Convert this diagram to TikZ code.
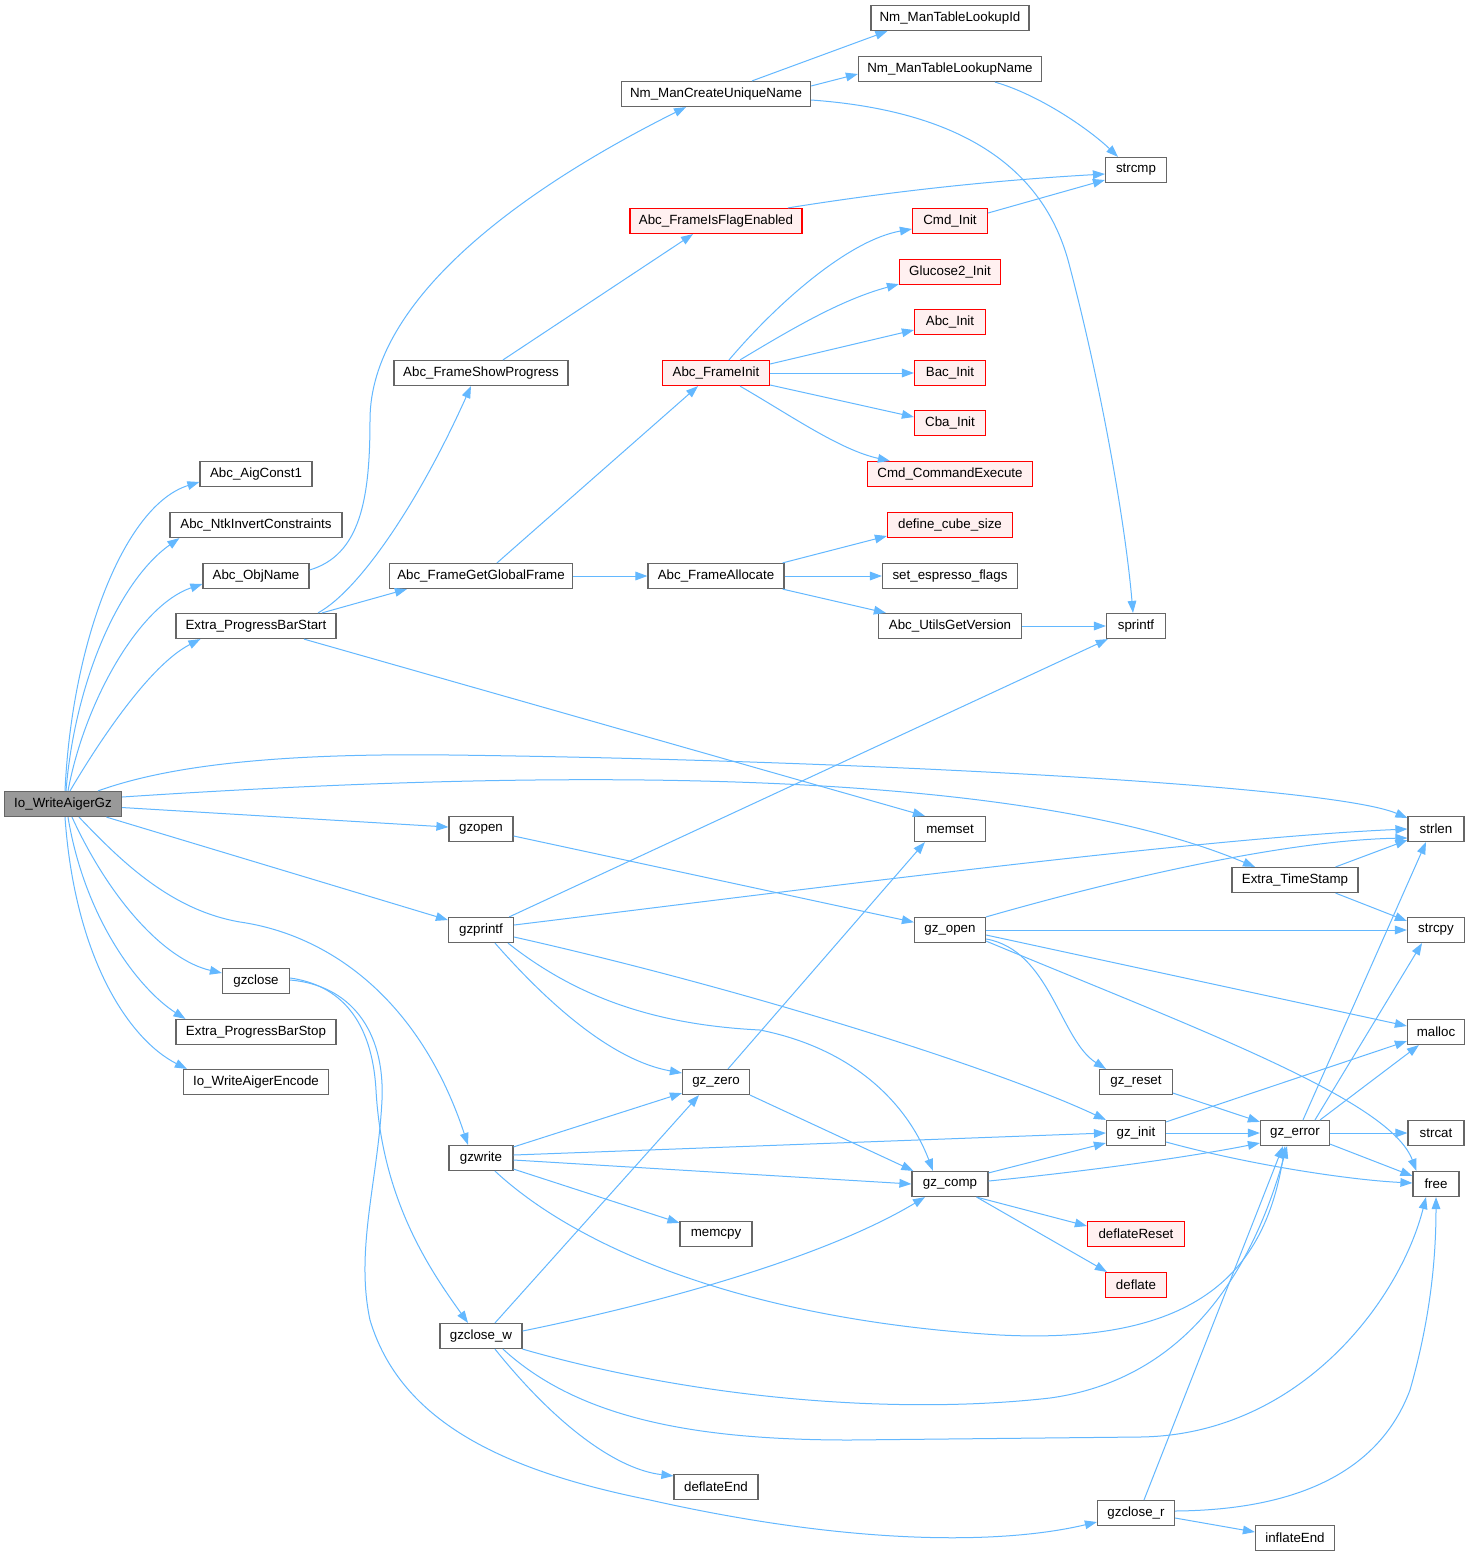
\documentclass[tikz,border=0pt]{standalone}
\usepackage{fontspec}
\setmainfont{Liberation Sans}
\usetikzlibrary{arrows.meta,calc}
\definecolor{edgec}{HTML}{63B8FF}
\definecolor{nodeb}{HTML}{666666}
\definecolor{rootf}{HTML}{999999}
\definecolor{redb}{HTML}{FF0000}
\definecolor{redf}{HTML}{FFF0F0}
\begin{document}
\begin{tikzpicture}[x=0.75pt,y=-0.75pt,
 fn/.style={draw=nodeb,fill=white,line width=0.9pt,minimum height=18.75pt,inner sep=0pt,font=\fontsize{10}{12}\selectfont},
 rootn/.style={fn,fill=rootf},
 redn/.style={fn,draw=redb,fill=redf},
 w/.style={minimum width=#1*0.75pt},
 e/.style={draw=edgec,line width=0.75pt,-{Triangle[length=9pt,width=6.5pt]}}]
\useasboundingbox (0,0) rectangle (1471,1557);
\fill[white] (0,0) rectangle (1471,1557);
% nodes
\node[rootn,w=117] (root) at (63,804) {Io\_WriteAigerGz};
\node[fn,w=112] (aig) at (256,474) {Abc\_AigConst1};
\node[fn,w=172] (ntk) at (256,525) {Abc\_NtkInvertConstraints};
\node[fn,w=106] (obj) at (256,576) {Abc\_ObjName};
\node[fn,w=160] (pbs) at (256,626) {Extra\_ProgressBarStart};
\node[fn,w=67] (gzc) at (256,981) {gzclose};
\node[fn,w=160] (pbe) at (256,1032) {Extra\_ProgressBarStop};
\node[fn,w=145] (enc) at (256,1082) {Io\_WriteAigerEncode};
\node[fn,w=189] (nmc) at (716,94) {Nm\_ManCreateUniqueName};
\node[fn,w=174] (fsp) at (481,373) {Abc\_FrameShowProgress};
\node[fn,w=183] (ggf) at (481,576) {Abc\_FrameGetGlobalFrame};
\node[fn,w=64] (gzo) at (481,829) {gzopen};
\node[fn,w=65] (gzp) at (481,930) {gzprintf};
\node[fn,w=64] (gzw) at (481,1158) {gzwrite};
\node[fn,w=82] (gzcw) at (481,1336) {gzclose\_w};
\node[redn,w=172] (ffe) at (716,221) {Abc\_FrameIsFlagEnabled};
\node[redn,w=107] (fin) at (716,373) {Abc\_FrameInit};
\node[fn,w=136] (fal) at (716,576) {Abc\_FrameAllocate};
\node[fn,w=67] (gzz) at (716,1082) {gz\_zero};
\node[fn,w=72] (mcp) at (716,1234) {memcpy};
\node[fn,w=84] (dfe) at (716,1487) {deflateEnd};
\node[fn,w=158] (tid) at (950,18) {Nm\_ManTableLookupId};
\node[fn,w=183] (tnm) at (950,69) {Nm\_ManTableLookupName};
\node[redn,w=75] (cmi) at (950,221) {Cmd\_Init};
\node[redn,w=101] (glu) at (950,272) {Glucose2\_Init};
\node[redn,w=71] (abi) at (950,322) {Abc\_Init};
\node[redn,w=71] (bai) at (950,373) {Bac\_Init};
\node[redn,w=71] (cbi) at (950,423) {Cba\_Init};
\node[redn,w=165] (cce) at (950,474) {Cmd\_CommandExecute};
\node[redn,w=125] (dcs) at (950,525) {define\_cube\_size};
\node[fn,w=135] (sef) at (950,576) {set\_espresso\_flags};
\node[fn,w=143] (ugv) at (950,626) {Abc\_UtilsGetVersion};
\node[fn,w=71] (mst) at (950,829) {memset};
\node[fn,w=71] (gzop) at (950,930) {gz\_open};
\node[fn,w=76] (gzcm) at (950,1184) {gz\_comp};
\node[fn,w=61] (scm) at (1136,170) {strcmp};
\node[fn,w=59] (spf) at (1136,626) {sprintf};
\node[fn,w=73] (gzr) at (1136,1082) {gz\_reset};
\node[fn,w=59] (gzi) at (1136,1133) {gz\_init};
\node[redn,w=97] (dfr) at (1136,1234) {deflateReset};
\node[redn,w=61] (dfl) at (1136,1285) {deflate};
\node[fn,w=77] (gzcr) at (1136,1513) {gzclose\_r};
\node[fn,w=126] (ets) at (1295,880) {Extra\_TimeStamp};
\node[fn,w=69] (gze) at (1295,1133) {gz\_error};
\node[fn,w=79] (ife) at (1295,1538) {inflateEnd};
\node[fn,w=56] (sln) at (1436,829) {strlen};
\node[fn,w=57] (scp) at (1436,930) {strcpy};
\node[fn,w=57] (mal) at (1436,1032) {malloc};
\node[fn,w=56] (sct) at (1436,1133) {strcat};
\node[fn,w=46] (fre) at (1436,1184) {free};
% edges from root
\draw[e] ($(root.north)+(2,0)$) .. controls (72,640) and (125,505) .. ($(aig.west)+(0,8)$);
\draw[e] ($(root.north)+(3,0)$) .. controls (75,680) and (120,580) .. ($(ntk.south west)+(10,0)$);
\draw[e] ($(root.north)+(5,0)$) .. controls (85,700) and (140,605) .. ($(obj.west)+(0,8)$);
\draw[e] ($(root.north)+(7,0)$) .. controls (100,740) and (150,665) .. ($(pbs.south west)+(25,0)$);
\draw[e] ($(root.north)+(35,0)$) .. controls (170,765) and (280,753) .. (450,755) .. controls (850,760) and (1330,785) .. ($(sln.west)+(0,-11)$);
\draw[e] ($(root.east)+(0,-7)$) .. controls (500,772) and (1000,760) .. ($(ets.north)+(-40,0)$);
\draw[e] (root) -- (gzo);
\draw[e] (root) -- (gzp);
\draw[e] ($(root.south)+(16,0)$) .. controls (120,860) and (170,910) .. (240,922) .. controls (330,935) and (420,1000) .. ($(gzw.north)+(-13,0)$);
\draw[e] ($(root.south)+(9,0)$) .. controls (110,900) and (165,960) .. ($(gzc.west)+(0,-8)$);
\draw[e] ($(root.south)+(5,0)$) .. controls (85,920) and (140,990) .. ($(pbe.north west)+(10,0)$);
\draw[e] ($(root.south)+(2,0)$) .. controls (75,960) and (130,1040) .. ($(enc.north west)+(4,0)$);
% upper part
\draw[e] ($(obj.east)+(0,-6)$) .. controls (360,555) and (370,500) .. (370,420) .. controls (370,300) and (520,190) .. ($(nmc.south)+(-30,0)$);
\draw[e] ($(pbs.north)+(62,0)$) .. controls (360,590) and (420,500) .. ($(fsp.south)+(-10,0)$);
\draw[e] ($(pbs.north)+(66,0)$) -- ($(ggf.south west)+(18,0)$);
\draw[e] ($(pbs.south)+(48,0)$) -- ($(mst.north west)+(11,0)$);
\draw[e] ($(nmc.north)+(36,0)$) -- ($(tid.south west)+(17,0)$);
\draw[e] ($(nmc.east)+(0,-8)$) -- ($(tnm.west)+(0,5)$);
\draw[e] ($(nmc.east)+(0,6)$) .. controls (950,110) and (1040,160) .. (1068,260) .. controls (1100,380) and (1125,520) .. ($(spf.north)+(-3,0)$);
\draw[e] ($(tnm.south)+(45,0)$) .. controls (1040,95) and (1090,130) .. ($(scm.north)+(-18,0)$);
\draw[e] ($(ffe.north)+(72,0)$) .. controls (900,190) and (1000,180) .. ($(scm.west)+(0,4)$);
\draw[e] ($(cmi.east)+(0,-8)$) -- ($(scm.west)+(0,10)$);
\draw[e] ($(fsp.north)+(22,0)$) -- ($(ffe.south)+(-23,0)$);
\draw[e] ($(ggf.north)+(16,0)$) -- ($(fin.south)+(-18,0)$);
\draw[e] (ggf) -- (fal);
\draw[e] ($(fin.north)+(13,0)$) .. controls (780,300) and (850,240) .. ($(cmi.west)+(0,8)$);
\draw[e] ($(fin.north)+(24,0)$) .. controls (790,330) and (840,300) .. ($(glu.south west)+(0,-1)$);
\draw[e] ($(fin.east)+(0,-9)$) -- ($(abi.west)+(0,8)$);
\draw[e] (fin) -- (bai);
\draw[e] ($(fin.east)+(0,12)$) -- ($(cbi.west)+(0,-6)$);
\draw[e] ($(fin.south)+(24,0)$) .. controls (790,415) and (840,450) .. ($(cce.north west)+(23,0)$);
\draw[e] ($(fal.north east)+(-2,0)$) -- ($(dcs.west)+(0,11)$);
\draw[e] (fal) -- (sef);
\draw[e] ($(fal.south east)+(-2,0)$) -- ($(ugv.north west)+(8,0)$);
\draw[e] (ugv) -- (spf);
% middle part
\draw[e] (gzp) -- (spf);
\draw[e] ($(gzp.east)+(0,-5)$) .. controls (800,890) and (1200,838) .. (sln.west);
\draw[e] ($(gzp.south)+(14,0)$) .. controls (545,1000) and (610,1060) .. ($(gzz.west)+(0,-9)$);
\draw[e] ($(gzp.south)+(27,0)$) .. controls (580,1000) and (660,1025) .. (760,1030) .. controls (860,1050) and (910,1110) .. ($(gzcm.north)+(-17,0)$);
\draw[e] ($(gzp.east)+(0,7)$) .. controls (750,990) and (1000,1070) .. (gzi.north west);
\draw[e] (gzo) -- (gzop);
\draw[e] (gzop.north east) .. controls (1150,870) and (1300,840) .. ($(sln.west)+(0,9)$);
\draw[e] (gzop) -- (scp);
\draw[e] ($(gzop.east)+(0,5)$) -- ($(mal.west)+(0,-6)$);
\draw[e] ($(gzop.south east)+(0,-2)$) .. controls (1200,1030) and (1390,1100) .. ($(fre.north west)+(4,0)$);
\draw[e] ($(gzop.east)+(0,9)$) .. controls (1050,950) and (1060,1040) .. ($(gzr.north west)+(7,0)$);
\draw[e] ($(ets.north east)+(-23,0)$) -- ($(sln.west)+(0,11)$);
\draw[e] ($(ets.south east)+(-23,0)$) -- ($(scp.west)+(0,-9)$);
% gzclose
\draw[e] ($(gzc.east)+(0,-3)$) .. controls (340,985) and (372,1020) .. (376,1090) .. controls (382,1200) and (430,1270) .. ($(gzcw.north)+(-13,0)$);
\draw[e] ($(gzc.east)+(0,-1)$) .. controls (350,985) and (385,1030) .. (382,1100) .. controls (378,1180) and (355,1250) .. (370,1320) .. controls (400,1420) and (500,1470) .. (650,1500) .. controls (850,1545) and (1000,1545) .. ($(gzcr.west)+(0,9)$);
% gzwrite
\draw[e] ($(gzw.north east)+(0,2)$) -- ($(gzz.south west)+(0,-2)$);
\draw[e] ($(gzw.east)+(0,-3)$) -- (gzi.west);
\draw[e] ($(gzw.east)+(0,2)$) -- (gzcm.west);
\draw[e] ($(gzw.south east)+(0,-2)$) -- ($(mcp.north west)+(0,2)$);
\draw[e] ($(gzw.south)+(14,0)$) .. controls (580,1250) and (750,1320) .. (1000,1335) .. controls (1200,1345) and (1265,1270) .. ($(gze.south)+(-10,0)$);
% gz_zero, gz_comp
\draw[e] ($(gzz.north)+(12,0)$) -- ($(mst.south west)+(11,0)$);
\draw[e] (gzz.south east) -- ($(gzcm.north west)+(2,0)$);
\draw[e] ($(gzcm.north east)+(0,2)$) -- ($(gzi.west)+(0,10)$);
\draw[e] ($(gzcm.east)+(0,-3)$) .. controls (1100,1170) and (1200,1155) .. ($(gze.west)+(0,10)$);
\draw[e] ($(gzcm.south east)+(-12,0)$) -- ($(dfr.west)+(0,-8)$);
\draw[e] ($(gzcm.south east)+(-12,0)$) -- ($(dfl.north west)+(2,0)$);
% gz_reset, gz_init, gz_error
\draw[e] ($(gzr.south east)+(0,-2)$) -- ($(gze.north west)+(0,2)$);
\draw[e] (gzi) -- (gze);
\draw[e] ($(gzi.north east)+(0,2)$) -- ($(mal.south west)+(0,-4)$);
\draw[e] ($(gzi.east)+(0,9)$) .. controls (1250,1165) and (1350,1180) .. ($(fre.west)+(0,-1)$);
\draw[e] ($(gze.north)+(8,0)$) -- ($(sln.south)+(-10,0)$);
\draw[e] ($(gze.north)+(20,0)$) -- ($(scp.south)+(-14,0)$);
\draw[e] ($(gze.north east)+(-10,0)$) -- ($(mal.south west)+(12,0)$);
\draw[e] (gze) -- (sct);
\draw[e] ($(gze.south east)+(0,-2)$) -- ($(fre.west)+(0,-8)$);
% gzclose_w
\draw[e] ($(gzcw.north)+(14,0)$) -- ($(gzz.south)+(-17,0)$);
\draw[e] ($(gzcw.east)+(0,-5)$) .. controls (650,1305) and (820,1260) .. ($(gzcm.south)+(-25,0)$);
\draw[e] ($(gzcw.south east)+(0,0)$) .. controls (700,1400) and (900,1415) .. (1050,1398) .. controls (1180,1380) and (1250,1280) .. ($(gze.south)+(-8,0)$);
\draw[e] ($(gzcw.south)+(22,0)$) .. controls (580,1420) and (700,1440) .. (850,1440) -- (1140,1437) .. controls (1300,1435) and (1400,1300) .. ($(fre.south)+(-10,0)$);
\draw[e] ($(gzcw.south)+(14,0)$) .. controls (560,1430) and (620,1470) .. ($(dfe.north west)+(0,2)$);
% gzclose_r
\draw[e] ($(gzcr.north)+(8,0)$) -- ($(gze.south)+(-12,0)$);
\draw[e] ($(gzcr.east)+(0,-2)$) .. controls (1300,1510) and (1380,1470) .. (1410,1390) .. controls (1430,1320) and (1436,1260) .. (fre.south);
\draw[e] ($(gzcr.east)+(0,5)$) -- ($(ife.west)+(0,-6)$);
\end{tikzpicture}
\end{document}
